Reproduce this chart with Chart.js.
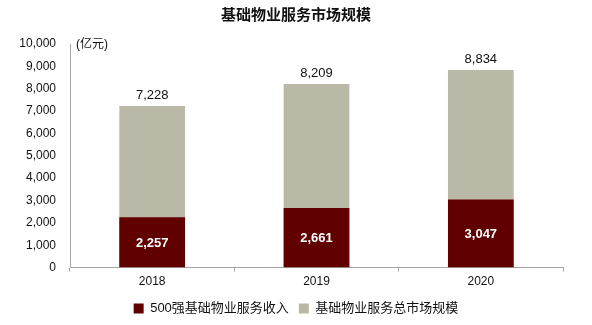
<!DOCTYPE html>
<html>
<head>
<meta charset="utf-8">
<script src="https://cdn.jsdelivr.net/npm/chart.js@4/dist/chart.umd.min.js"></script>
<style>
  html, body { margin: 0; padding: 0; background: #fff; }
  #wrap { width: 592px; height: 325px; position: relative; }
</style>
</head>
<body>
<div id="wrap"><canvas id="c" width="592" height="325"></canvas></div>
<script>
const years = ['2018', '2019', '2020'];
const top500Revenue = [2257, 2661, 3047];
const totalMarket = [7228, 8209, 8834];
const yTicks = [0, 1000, 2000, 3000, 4000, 5000, 6000, 7000, 8000, 9000, 10000];
const seriesNames = ['500强基础物业服务收入', '基础物业服务总市场规模'];
const unitLabel = '(亿元)';
const chartTitle = '基础物业服务市场规模';

const FONT = "'Liberation Sans', Arial, 'Noto Sans CJK SC', sans-serif";
const fmt = v => v.toLocaleString('en-US');

// Value labels: totals above the grey bars, top-500 revenue centred in the red bars
const valueLabels = {
  id: 'valueLabels',
  afterDatasetsDraw(chart) {
    const ctx = chart.ctx;
    ctx.save();
    ctx.textAlign = 'center';
    ctx.textBaseline = 'middle';
    chart.data.datasets.forEach((ds, i) => {
      const meta = chart.getDatasetMeta(i);
      meta.data.forEach((bar, j) => {
        const v = ds.data[j];
        if (i === 0) {
          ctx.font = 'bold 13px ' + FONT;
          ctx.fillStyle = '#ffffff';
          ctx.fillText(fmt(v), bar.x, (bar.y + bar.base) / 2 + 1);
        } else {
          ctx.font = '13px ' + FONT;
          ctx.fillStyle = '#111111';
          ctx.fillText(fmt(v), bar.x, bar.y - 11);
        }
      });
    });
    // unit label beside the top of the value axis
    const ca = chart.chartArea;
    ctx.font = '12px ' + FONT;
    ctx.fillStyle = '#111111';
    ctx.textAlign = 'left';
    ctx.fillText(unitLabel, ca.left + 6, ca.top + 1);
    ctx.restore();
  }
};

new Chart(document.getElementById('c'), {
  type: 'bar',
  data: {
    labels: years,
    datasets: [
      {
        label: seriesNames[0],
        data: top500Revenue,
        backgroundColor: '#600000',
        grouped: false,
        barPercentage: 0.8,
        categoryPercentage: 0.5
      },
      {
        label: seriesNames[1],
        data: totalMarket,
        backgroundColor: '#BAB9A7',
        grouped: false,
        barPercentage: 0.8,
        categoryPercentage: 0.5
      }
    ]
  },
  options: {
    responsive: false,
    animation: false,
    layout: { padding: { left: 0, right: 0, top: 0, bottom: 0 } },
    plugins: {
      title: {
        display: true,
        text: chartTitle,
        color: '#111111',
        font: { family: FONT, size: 15, weight: 'bold' },
        padding: { top: 7, bottom: 19 }
      },
      legend: {
        position: 'bottom',
        labels: {
          color: '#111111',
          font: { family: FONT, size: 13 },
          boxWidth: 10,
          boxHeight: 10,
          padding: 10,
          useBorderRadius: false
        }
      },
      tooltip: { enabled: false }
    },
    scales: {
      x: {
        grid: {
          display: true,
          drawOnChartArea: false,
          drawTicks: true,
          tickLength: 4,
          color: '#A6A6A6',
          offset: true
        },
        border: { color: '#A6A6A6', width: 1 },
        ticks: { color: '#111111', font: { family: FONT, size: 12 }, padding: 3 }
      },
      y: {
        min: 0,
        max: 10000,
        afterBuildTicks(scale) {
          scale.ticks = yTicks.map(v => ({ value: v }));
        },
        afterFit(scale) { scale.width = 70; },
        grid: { display: false, drawTicks: false },
        border: { color: '#A6A6A6', width: 1 },
        ticks: {
          color: '#111111',
          font: { family: FONT, size: 12 },
          padding: 14,
          callback: v => fmt(v)
        }
      },
      // empty right-hand margin axis that keeps the plot clear of the right edge
      margin: {
        type: 'linear',
        position: 'right',
        display: true,
        afterFit(scale) { scale.width = 29; },
        grid: { display: false, drawTicks: false },
        border: { display: false },
        ticks: { display: false }
      }
    }
  },
  plugins: [valueLabels]
});
</script>
</body>
</html>
